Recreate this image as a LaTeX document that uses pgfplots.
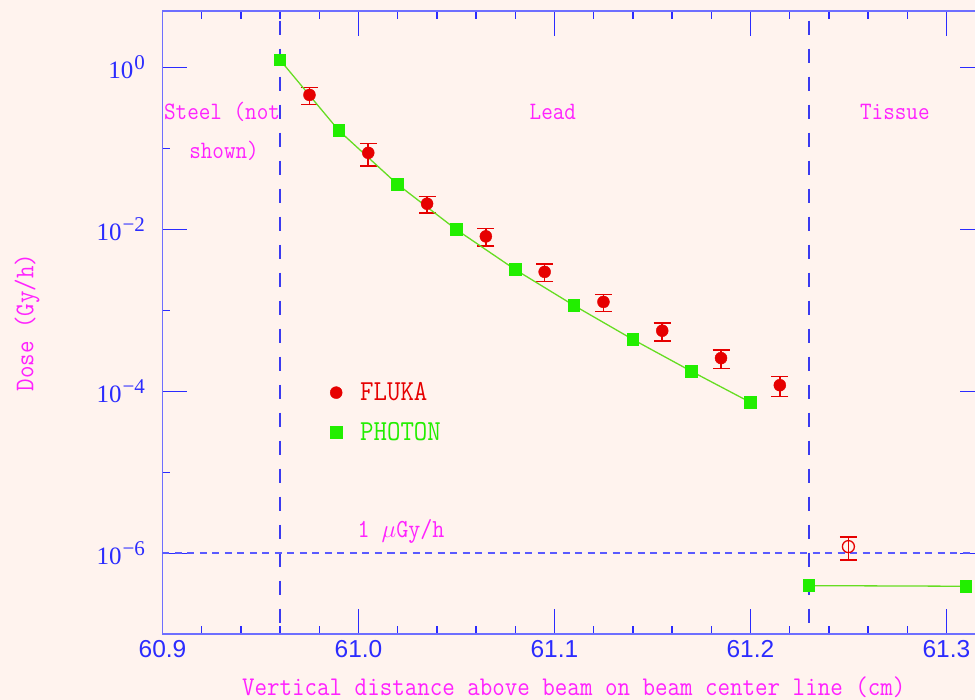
\documentclass[border=0pt]{standalone}
\usepackage{fontspec}
\usepackage{pgfplots}
\pgfplotsset{compat=1.18}
\newfontfamily\monof[FakeStretch=0.9]{Latin Modern Mono}
\newfontfamily\sansf{Liberation Sans}
\newfontfamily\seriff{Liberation Serif}
\definecolor{bg}{HTML}{FFF3EE}
\definecolor{spine}{HTML}{6E6EFF}
\definecolor{tickc}{HTML}{2B2BFF}
\definecolor{labc}{HTML}{FF22FF}
\definecolor{fluka}{HTML}{E60000}
\definecolor{photon}{HTML}{22EE00}
\definecolor{pline}{HTML}{66DD22}
\definecolor{linev}{HTML}{3A3AF0}
\definecolor{lineh}{HTML}{5A5AFF}
\newcommand\ex[1]{10\kern1pt\raisebox{9pt}{\fontsize{21}{21}\selectfont#1}}
\newcommand\lab{\monof\fontsize{25}{25}\selectfont}

\begin{document}
\begin{tikzpicture}
\useasboundingbox[fill=bg] (-162.5pt,-65.7pt) rectangle (812.5pt,634.3pt);
\begin{axis}[
  scale only axis, width=822.5pt, height=623.6pt,
  xmin=60.9, xmax=61.3197,
  ymode=log, ymin=1e-7, ymax=5,
  xtick={60.9,61.0,61.1,61.2,61.3},
  xticklabels={60.9,61.0,61.1,61.2,61.3},
  minor x tick num=4,
  ytick={1e-6,1e-4,1e-2,1},
  yticklabels={\ex{−6},\ex{−4},\ex{−2},\ex{0}},
  minor ytick={1e-7,1e-5,1e-3,1e-1},
  major tick length=25pt, minor tick length=8pt,
  tick style={tickc, line width=1.4pt},
  axis line style={spine, line width=1.8pt},
  tick label style={tickc},
  xticklabel style={font=\sansf\fontsize{24.5}{24.5}\selectfont, yshift=-2.5pt},
  yticklabel style={font=\seriff\fontsize{25}{25}\selectfont, xshift=-14pt},
  xlabel={Vertical distance above beam on beam center line (cm)},
  xlabel style={font=\monof\fontsize{27}{27}\selectfont, text=labc,
    at={(axis description cs:0.5,-0.0843)}, anchor=center},
  ylabel={Dose (Gy/h)},
  ylabel style={font=\monof\fontsize{27}{27}\selectfont, text=labc,
    at={(axis description cs:-0.1647,0.5)}, anchor=center},
  legend style={draw=none, fill=none, font=\monof\fontsize{29}{29}\selectfont,
    at={(axis description cs:0.2,0.41)}, anchor=north west,
    column sep=16pt, row sep=16pt, cells={anchor=west}},
]
% region boundaries and 1 uGy/h level
\addplot[forget plot, linev, line width=1.9pt, dash pattern=on 14pt off 14pt, dash phase=18pt]
  coordinates {(60.96,5) (60.96,1e-7)};
\addplot[forget plot, linev, line width=1.9pt, dash pattern=on 14pt off 14pt, dash phase=18pt]
  coordinates {(61.23,5) (61.23,1e-7)};
\addplot[forget plot, lineh, line width=1.8pt, dash pattern=on 7pt off 5.5pt]
  coordinates {(60.9,1e-6) (61.3197,1e-6)};

\addlegendimage{only marks, mark=*, fluka, mark size=6pt}
\addlegendentry[text=fluka]{FLUKA}
\addlegendimage{only marks, mark=square*, photon, mark size=5.6pt}
\addlegendentry[text=photon]{PHOTON}

% FLUKA with error bars
\addplot[forget plot, only marks, mark=*, fluka, mark size=6pt,
  error bars/.cd, y dir=both, y explicit,
  error bar style={fluka, line width=1.6pt},
  error mark options={rotate=90, fluka, line width=1.6pt, mark size=8.5pt}]
coordinates {
  (60.975,0.456)   +- (0,0.11)
  (61.005,0.0879)  +- (0,0.027)
  (61.035,0.0207)  +- (0,0.0048)
  (61.065,0.00818) +- (0,0.002)
  (61.095,0.00298) +- (0,0.00072)
  (61.125,0.00127) +- (0,0.0003)
  (61.155,5.6e-4)  +- (0,1.4e-4)
  (61.185,2.57e-4) +- (0,6.6e-5)
  (61.215,1.19e-4) +- (0,3.3e-5)
};
% FLUKA in tissue (open)
\addplot[forget plot, only marks, mark=o, fluka, mark size=6pt, line width=1.3pt,
  error bars/.cd, y dir=both, y explicit,
  error bar style={fluka, line width=1.6pt},
  error mark options={rotate=90, fluka, line width=1.6pt, mark size=8.5pt}]
coordinates {
  (61.25,1.21e-6) +- (0,3.9e-7)
};

% PHOTON
\addplot[forget plot, pline, line width=1.3pt, mark=square*, mark size=5.6pt,
  mark options={photon, draw=photon}]
coordinates {
  (60.96,1.23) (60.99,0.1656) (61.02,0.0358) (61.05,0.0099) (61.08,0.00318)
  (61.11,0.001146) (61.14,4.37e-4) (61.17,1.76e-4) (61.20,7.3e-5)
};
\addplot[forget plot, pline, line width=1.3pt, mark=square*, mark size=5.6pt,
  mark options={photon, draw=photon}]
coordinates {
  (61.23,3.99e-7) (61.31,3.92e-7)
};

\node[labc, font=\lab] at (axis cs:60.9304,0.281) {Steel (not};
\node[labc, font=\lab] at (axis cs:60.9314,0.094) {shown)};
\node[labc, font=\lab] at (axis cs:61.0992,0.281) {Lead};
\node[labc, font=\lab] at (axis cs:61.2737,0.281) {Tissue};
\node[labc, font=\monof\fontsize{26}{26}\selectfont] at (axis cs:61.0217,1.88e-6) {1 $\mu$Gy/h};
\end{axis}
\end{tikzpicture}
\end{document}
